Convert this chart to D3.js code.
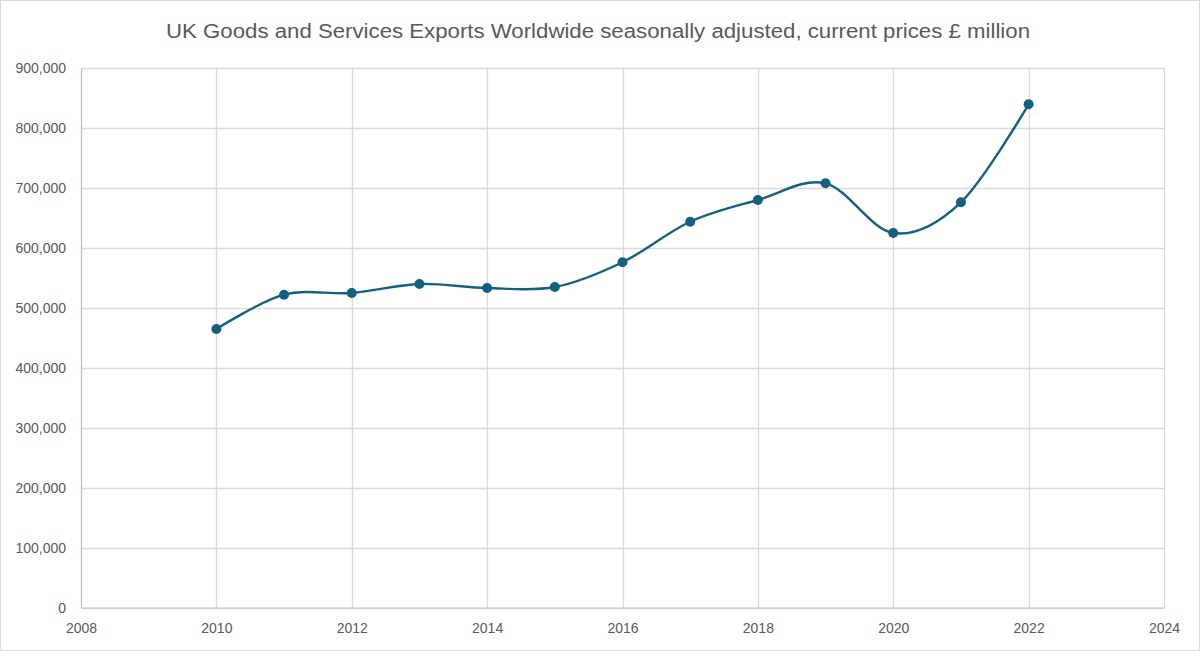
<!DOCTYPE html>
<html><head><meta charset="utf-8">
<script src="https://cdn.jsdelivr.net/npm/d3@7"></script>
<style>body{margin:0;background:#fff}svg{display:block}</style>
</head><body>
<svg id="c" width="1200" height="651"></svg>
<script>
const years = [2010,2011,2012,2013,2014,2015,2016,2017,2018,2019,2020,2021,2022];
const exportsGBP = [464500,521700,524500,539500,532800,534500,575800,643300,679500,707300,624500,675700,839000];
const xTicks = [2008,2010,2012,2014,2016,2018,2020,2022,2024];
const yTicks = [0,100000,200000,300000,400000,500000,600000,700000,800000,900000];
const title = "UK Goods and Services Exports Worldwide seasonally adjusted, current prices £ million";

const svg = d3.select("#c");
const W=1200,H=651;
const m={l:81,r:1164,t:67.7,b:607.7};
const x=d3.scaleLinear().domain([2008,2024]).range([m.l,m.r]);
const y=d3.scaleLinear().domain([0,900000]).range([m.b,m.t]);
const font="'Liberation Sans', Arial, sans-serif";
const txt="#595959";

svg.append("rect").attr("x",0.5).attr("y",0.5).attr("width",W-1).attr("height",H-1)
  .attr("fill","#fff").attr("stroke","#d9d9d9");

svg.append("text").attr("x",598).attr("y",38).attr("text-anchor","middle")
  .attr("font-family",font).attr("font-size",20).attr("fill",txt)
  .attr("textLength",864).attr("lengthAdjust","spacingAndGlyphs").text(title);

// grid
svg.append("g").selectAll("line").data(yTicks.slice(1)).join("line")
  .attr("x1",m.l).attr("x2",m.r).attr("y1",d=>Math.round(y(d))+0.5).attr("y2",d=>Math.round(y(d))+0.5)
  .attr("stroke","#d9d9d9").attr("stroke-width",1.3);
svg.append("g").selectAll("line").data(xTicks.slice(1)).join("line")
  .attr("y1",m.t).attr("y2",m.b).attr("x1",d=>Math.round(x(d))+0.5).attr("x2",d=>Math.round(x(d))+0.5)
  .attr("stroke","#d9d9d9").attr("stroke-width",1.3);

// axes
const xAxis=d3.axisBottom(x).tickValues(xTicks).tickFormat(d3.format("d")).tickSize(0).tickPadding(15);
const gx=svg.append("g").attr("transform",`translate(0,${m.b})`).call(xAxis);
gx.select(".domain").attr("stroke","#bfbfbf").attr("stroke-width",1.3);
gx.selectAll("text").attr("font-family",font).attr("font-size",14).attr("fill",txt);

const yAxis=d3.axisLeft(y).tickValues(yTicks).tickFormat(d3.format(",")).tickSize(0).tickPadding(15);
const gy=svg.append("g").attr("transform",`translate(${m.l},0)`).call(yAxis);
gy.select(".domain").attr("stroke","#bfbfbf").attr("stroke-width",1.3);
gy.selectAll("text").attr("font-family",font).attr("font-size",14).attr("fill",txt);

const data=years.map((yr,i)=>({yr,v:exportsGBP[i]}));
const line=d3.line().x(d=>x(d.yr)).y(d=>y(d.v)).curve(d3.curveCardinal.tension(0));
svg.append("path").datum(data).attr("d",line).attr("fill","none")
  .attr("stroke","#156082").attr("stroke-width",2.4);
svg.append("g").selectAll("circle").data(data).join("circle")
  .attr("cx",d=>x(d.yr)).attr("cy",d=>y(d.v)).attr("r",5).attr("fill","#156082");
</script>
</body></html>
